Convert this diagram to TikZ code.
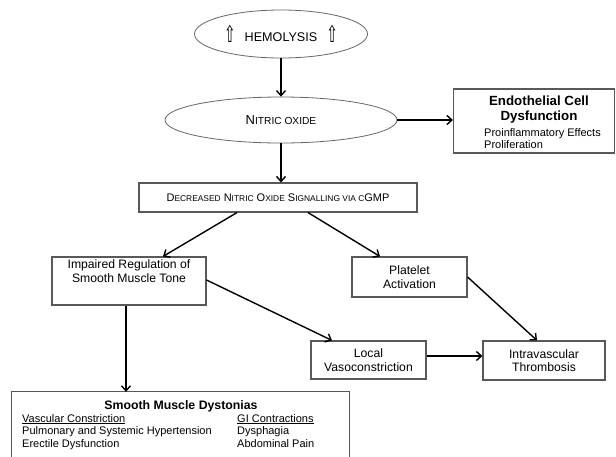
\documentclass[tikz,border=0pt]{standalone}
\usepackage{fontspec}
\usepackage{graphicx}
\setmainfont{Liberation Sans}
\newfontfamily\symfont{DejaVu Sans}
\usetikzlibrary{shapes.geometric,arrows.meta}
\newcommand{\smc}[2][8.4]{{\fontsize{#1}{10}\selectfont #2}}
\newcommand{\upa}{\raisebox{-1pt}{\scalebox{0.6}[1.0]{\symfont\fontsize{23}{23}\selectfont ⇧}}}
\begin{document}
\begin{tikzpicture}[x=1pt, y=-1pt,
    oval/.style={ellipse, draw=black!60, line width=0.8pt, inner sep=0pt},
    box/.style={rectangle, draw=black!65, line width=1.1pt, inner sep=0pt, align=center,
        font=\fontsize{12.2}{13.5}\selectfont},
    arr/.style={-{Straight Barb[length=5pt, width=9pt]}, line width=1.4pt}]
    \useasboundingbox (0, 0) rectangle (616, 456);
    \node[oval, minimum width=173pt, minimum height=48pt] (hemo) at (281, 34) {};
    \node (hemotext) at (281, 34) {\upa\hspace{9pt}\fontsize{12.6}{14}\selectfont HEMOLYSIS\hspace{9pt}\upa};
    \node[oval, minimum width=232pt, minimum height=46pt, font=\fontsize{13}{15}\selectfont] (no) at (281, 120)
        {N\smc[10.2]{ITRIC OXIDE}};
    \node[box, minimum width=161pt, minimum height=64pt] (endo) at (534, 121) {};
    \node[align=center, font=\bfseries\fontsize{13.3}{15}\selectfont] (endotitle) at (539, 110)
        {Endothelial Cell\\Dysfunction};
    \node[align=left, anchor=north west, inner sep=0pt, font=\fontsize{11}{12.2}\selectfont] (endotext) at (484, 128)
        {Proinflammatory Effects\\Proliferation};
    \node[box, minimum width=278pt, minimum height=29pt, font=\fontsize{11}{12}\selectfont] (cgmp) at (278, 197.5)
        {D\smc{ECREASED} N\smc{ITRIC} O\smc{XIDE} S\smc{IGNALLING VIA C}GMP};
    \node[box, minimum width=154pt, minimum height=48pt] (impaired) at (129, 281)
        {Impaired Regulation of\\Smooth Muscle Tone\\[6pt]};
    \node[box, minimum width=115pt, minimum height=40pt] (platelet) at (409.5, 277)
        {Platelet\\Activation};
    \node[box, minimum width=115pt, minimum height=38pt] (local) at (368.5, 360)
        {Local\\Vasoconstriction};
    \node[box, minimum width=122pt, minimum height=39pt] (intra) at (544, 360.5)
        {Intravascular\\Thrombosis};
    \node[minimum width=337pt, minimum height=66pt, inner sep=0pt] (dyst) at (180.5, 425) {};
    \draw[draw=black!65, line width=1.1pt] (dyst.south west) -- (dyst.north west) -- (dyst.north east) -- (dyst.south east);
    \node[font=\bfseries\fontsize{12.3}{14}\selectfont] (dysttitle) at (181, 406) {Smooth Muscle Dystonias};
    \node[align=left, anchor=north west, inner sep=0pt, font=\fontsize{11}{12.8}\selectfont] (vasc) at (22, 414)
        {\underline{Vascular Constriction}\\Pulmonary and Systemic Hypertension\\Erectile Dysfunction};
    \node[align=left, anchor=north west, inner sep=0pt, font=\fontsize{11}{12.8}\selectfont] (gi) at (237, 414)
        {\underline{GI Contractions}\\Dysphagia\\Abdominal Pain};
    \draw[arr] (hemo.south) to (no.north);
    \draw[arr] (no.east) to (endo.west |- no.east);
    \draw[arr] (no.south) to (no.south |- cgmp.north);
    \draw[arr] ([xshift=-41pt]cgmp.south) to ([xshift=34pt]impaired.north);
    \draw[arr] ([xshift=30pt]cgmp.south) to ([xshift=-29.5pt]platelet.north);
    \draw[arr] ([yshift=1pt]impaired.east) to ([xshift=-36.5pt]local.north);
    \draw[arr] (platelet.east) to ([xshift=-7pt]intra.north);
    \draw[arr] ([yshift=4pt]local.east) to ([yshift=4pt]local.east -| intra.west);
    \draw[arr] ([xshift=-3pt]impaired.south) to ([xshift=-3pt]impaired.south |- dyst.north);
\end{tikzpicture}
\end{document}
